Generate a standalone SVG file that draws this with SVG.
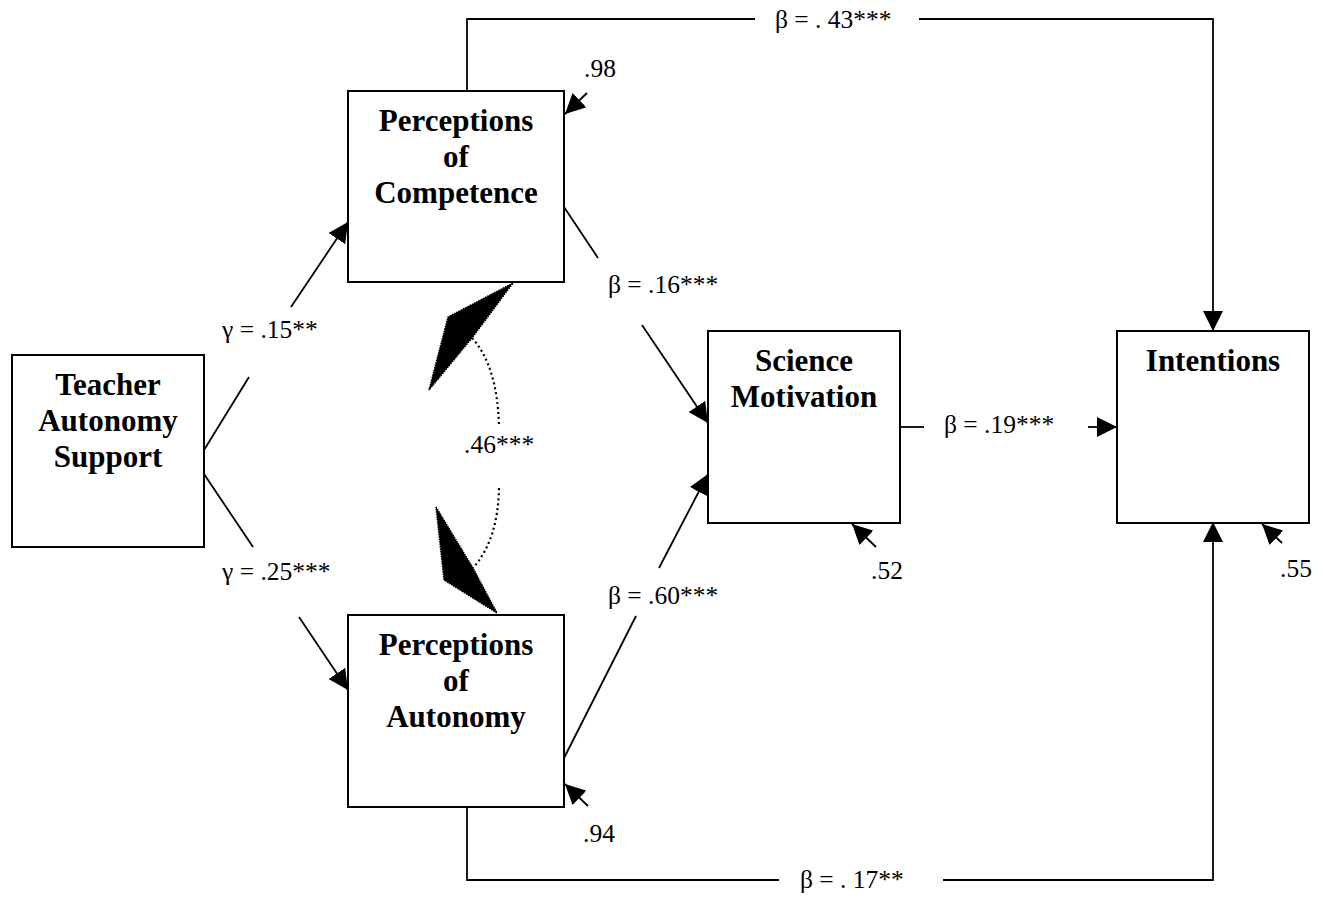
<svg xmlns="http://www.w3.org/2000/svg" width="1328" height="898" viewBox="0 0 1328 898">
<style>
.box{fill:#fff;stroke:#000;stroke-width:2}
.t{font-family:"Liberation Serif","Times New Roman",serif;font-weight:bold;font-size:31px;text-anchor:middle;fill:#000}
.l{font-family:"Liberation Serif","Times New Roman",serif;font-size:25.5px;fill:#000}
.c{fill:none;stroke:#000;stroke-width:1.8}
.a{fill:none;stroke:#000;stroke-width:1.8;marker-end:url(#ah)}
.d{fill:none;stroke:#000;stroke-width:2.2;stroke-dasharray:2 3}
</style>
<defs>
<marker id="ah" viewBox="0 0 10 10" refX="10" refY="5" markerUnits="userSpaceOnUse" markerWidth="20" markerHeight="20" orient="auto">
<path d="M0,0 L10,5 L0,10 z" fill="#000"/>
</marker>
</defs>
<rect width="1328" height="898" fill="#fff"/>
<g id="connectors">
<path class="c" d="M467,91 V19 H755"/>
<path class="a" d="M919,19 H1213 V331"/>
<path class="c" d="M467,807 V880 H779"/>
<path class="a" d="M943,880 H1213 V522"/>
<path class="c" d="M900,427 H924"/>
<path class="a" d="M1088,427 H1117"/>
<path class="c" d="M564,207 L598,258"/>
<path class="a" d="M642,325 L708,423"/>
<path class="c" d="M563,760 L636,616"/>
<path class="a" d="M659,568 L708,474"/>
<path class="c" d="M204,450 L249,377"/>
<path class="a" d="M291,307 L348,222"/>
<path class="c" d="M204,474 L253,547"/>
<path class="a" d="M299,617 L348,690"/>
<path class="a" d="M587,93 L565,114"/>
<path class="a" d="M876,547 L852,524"/>
<path class="a" d="M1282,543 L1262,524"/>
<path class="a" d="M588,806 L565,784"/>
<path class="d" d="M472,338 Q497,365 499,425"/>
<path class="d" d="M499,488 Q498,540 473,568"/>
<polygon points="513,283 448,317 429,390 472,338" fill="#000" stroke="#000" stroke-width="1.5" stroke-dasharray="1.5 1"/>
<polygon points="436,507 473,568 497,613 444,580" fill="#000" stroke="#000" stroke-width="1.5" stroke-dasharray="1.5 1"/>
<text class="l" x="775" y="28">β = . 43***</text>
<text class="l" x="800" y="888">β = . 17**</text>
<text class="l" x="944" y="433">β = .19***</text>
<text class="l" x="608" y="293">β = .16***</text>
<text class="l" x="608" y="604">β = .60***</text>
<text class="l" x="222" y="338">γ = .15**</text>
<text class="l" x="222" y="580">γ = .25***</text>
<text class="l" x="464" y="453">.46***</text>
<text class="l" x="584" y="77">.98</text>
<text class="l" x="871" y="579">.52</text>
<text class="l" x="1280" y="577">.55</text>
<text class="l" x="583" y="842">.94</text>
</g>
<g id="teacher">
<rect class="box" x="12" y="355" width="192" height="192"/>
<text class="t" x="108" y="395">Teacher</text>
<text class="t" x="108" y="431">Autonomy</text>
<text class="t" x="108" y="467">Support</text>
</g>
<g id="competence">
<rect class="box" x="348" y="91" width="216" height="191"/>
<text class="t" x="456" y="131">Perceptions</text>
<text class="t" x="456" y="167">of</text>
<text class="t" x="456" y="203">Competence</text>
</g>
<g id="autonomy">
<rect class="box" x="348" y="615" width="216" height="192"/>
<text class="t" x="456" y="655">Perceptions</text>
<text class="t" x="456" y="691">of</text>
<text class="t" x="456" y="727">Autonomy</text>
</g>
<g id="science">
<rect class="box" x="708" y="331" width="192" height="192"/>
<text class="t" x="804" y="371">Science</text>
<text class="t" x="804" y="407">Motivation</text>
</g>
<g id="intentions">
<rect class="box" x="1117" y="331" width="192" height="192"/>
<text class="t" x="1213" y="371">Intentions</text>
</g>
</svg>
